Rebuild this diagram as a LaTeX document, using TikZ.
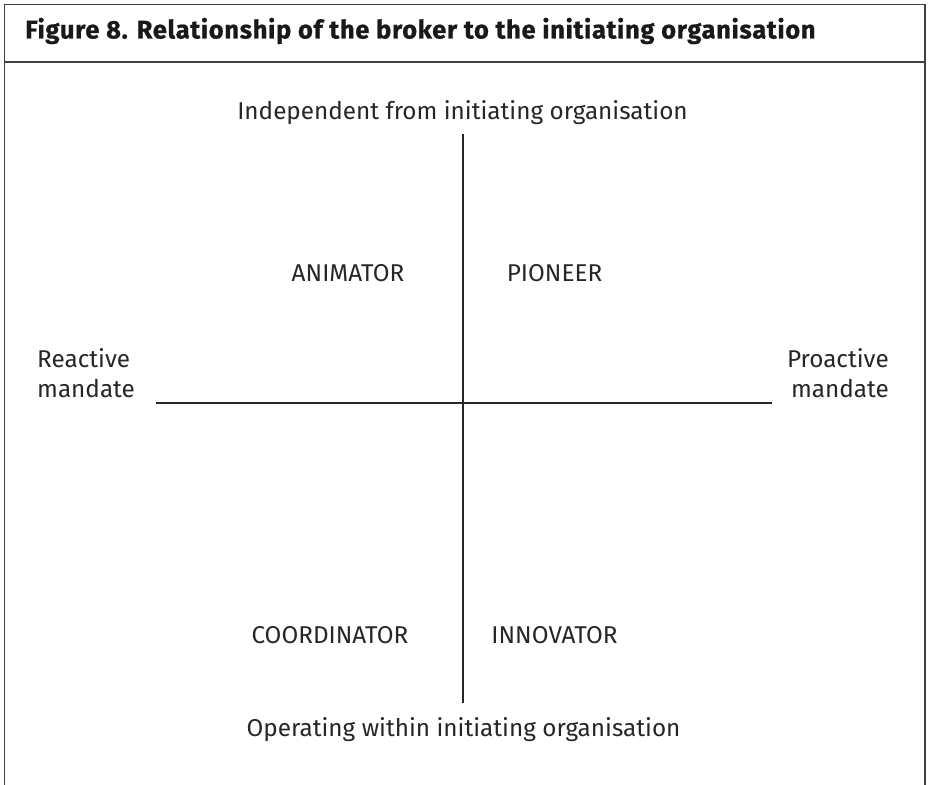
\documentclass[tikz,border=0pt]{standalone}
\usepackage{fontspec}
\setmainfont{Fira Sans}
\newfontfamily\labfont{Fira Sans}
\newfontfamily\ttlfont[LetterSpace=2.7,FakeBold=0.8]{Fira Sans Bold}
\begin{document}
\begin{tikzpicture}[x=1pt,y=-1pt,
  frame/.style={draw=black!75,line width=1.4pt},
  axis/.style={draw=black!85,line width=2.8pt},
  lab/.style={font=\labfont\fontsize{24.3}{30}\selectfont,text=black!85,inner sep=0pt},
  ttl/.style={font=\ttlfont\fontsize{25.5}{28}\selectfont,text=black!90,inner sep=0pt,anchor=base west}]
\useasboundingbox (0,0) rectangle (928,784);
% frame
\draw[frame] (4.5,790) -- (4.5,4.5) -- (925,4.5) -- (925,790);
\draw[frame] (4.5,62) -- (925,62);
\node[ttl] (title) at (25,38.5) {Figure 8. Relationship of the broker to the initiating organisation};
% axes
\coordinate (vtop) at (463,134);
\coordinate (vbot) at (463,703);
\coordinate (hl) at (156,403);
\coordinate (hr) at (772,403);
\draw[axis] (vtop) -- (vbot);
\draw[axis] (hl) -- (hr);
% labels
\node[lab,anchor=base] (top) at (462.5,119) {Independent from initiating organisation};
\node[lab,anchor=base] (bot) at (463.5,736) {Operating within initiating organisation};
\node[lab,anchor=base west,align=left] (left) at (37,397) {Reactive\\mandate};
\node[lab,anchor=base east,align=right] (right) at (889,397) {Proactive\\mandate};
\node[lab,anchor=base] (anim) at (348,281) {ANIMATOR};
\node[lab,anchor=base] (pion) at (554.5,281) {PIONEER};
\node[lab,anchor=base] (coord) at (330,643) {COORDINATOR};
\node[lab,anchor=base] (innov) at (554.5,643) {INNOVATOR};
\end{tikzpicture}
\end{document}
